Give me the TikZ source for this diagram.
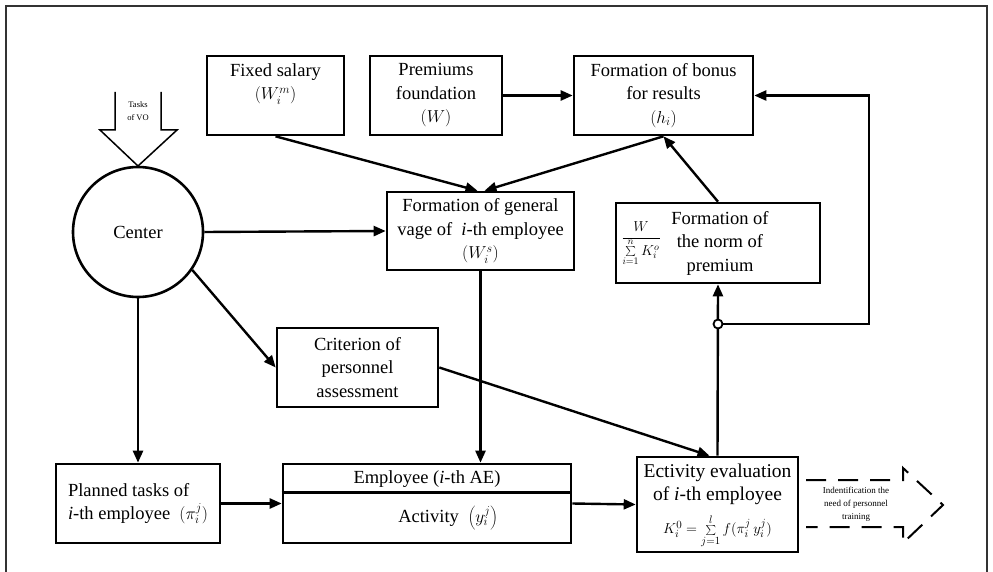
\documentclass[tikz,border=0pt]{standalone}
\usepackage{fontspec}
\setmainfont{Liberation Serif}
\usetikzlibrary{arrows.meta,calc}

\begin{document}
\begin{tikzpicture}[x=1pt,y=1pt,yscale=-1,xscale=1,
  box/.style={draw,line width=2.6pt,align=center,inner sep=2pt,font=\fontsize{18.5}{23.5}\selectfont},
  link/.style={line width=2.4pt,-{Triangle[length=12pt,width=10pt]}},
  txt/.style={inner sep=0pt,align=center,font=\fontsize{18.5}{23.5}\selectfont},
  small/.style={inner sep=0pt,align=center,font=\fontsize{9}{13}\selectfont}]
\useasboundingbox (0,0) rectangle (993,572);

%Frame
\draw[line width=1.2pt,black!80] (6,580) -- (6,6) -- (987,6) -- (987,580);

%Boxes of the top row
\node[box,minimum width=137,minimum height=79] (salary) at (275.5,95.5) {Fixed salary\\$(W_i^{m})$\\[4pt]};
\node[box,minimum width=132,minimum height=79] (fund) at (436,95.5) {Premiums\\foundation\\$(W)$};
\node[box,minimum width=179,minimum height=79] (bonus) at (663.5,95.5) {Formation of bonus\\for results\\$(h_i)$};

%Middle row
\node[draw,circle,line width=2.6pt,minimum size=130,font=\fontsize{18.5}{23.5}\selectfont] (ctr) at (138,232) {Center};
\node[box,minimum width=187,minimum height=78] (wage) at (480.5,231) {Formation of general\\vage of \ \textit{i}-th employee\\$(W_i^{s})$};
\node[txt] (normtxt) at (720,243) {Formation of\\the norm of\\premium};
\node[draw,line width=2.6pt,minimum width=204,minimum height=80] (norm) at (718,243) {};
\node[inner sep=0pt,font=\fontsize{14}{16}\selectfont] (normfrac) at (641,244) {$\displaystyle\frac{W}{\sum\limits_{i=1}^{n}K_i^{o}}$};
\node[box,minimum width=161,minimum height=79] (crit) at (357.5,367.5) {Criterion of\\personnel\\assessment};

%Bottom row
\node[box,minimum width=164,minimum height=79,align=left] (plan) at (138,503.5) {Planned tasks of\\\textit{i}-th employee \ $(\pi_i^{j})$};
\node[draw,line width=2.6pt,minimum width=288,minimum height=79] (empl) at (427,503.5) {};
\draw[line width=2.6pt] ($(empl.north west)+(0,30)$) -- ($(empl.north east)+(0,30)$);
\node[txt] (emplname) at (427,479) {Employee (\textit{i}-th AE)};
\node[txt] (emplact) at (448,518) {Activity \ $\left(y_i^{j}\right)$};
\node[draw,line width=2.6pt,minimum width=161,minimum height=95] (ect) at (717.5,504.5) {};
\node[txt,font=\fontsize{19.5}{23}\selectfont] (ecttxt) at (717.5,484) {Ectivity evaluation\\of \textit{i}-th employee};
\node[inner sep=0pt,font=\fontsize{15}{17}\selectfont] (ectform) at (717.5,531) {$K_i^0=\sum\limits_{j=1}^{l}f(\pi_i^{j}\,y_i^{j})$};

%Tasks of VO
\draw[line width=1.5pt] (115,92) -- (115,130) -- (100,130) -- (138,166) -- (177,130) -- (161,130) -- (161,92);
\node[small,font=\fontsize{8.5}{13}\selectfont] (tasks) at (138,111) {Tasks\\of VO};

%Connectors
\draw[link] (salary.south) -- ($(wage.north)+(-3,0)$);
\draw[link] (bonus.south) -- ($(wage.north)+(4,0)$);
\draw[link] (fund.east) -- (bonus.west);
\draw[link] (norm.north) -- (bonus.south);
\draw[link] (ctr.east) -- (wage.west);
\draw[link] (ctr.-35) -- (crit.west);
\draw[link] (ctr.south) -- (plan.north);
\draw[link] (wage.south) -- (wage.south |- empl.north);
\draw[link] (plan.east) -- (empl.west);
\draw[link] (empl.east) -- (ect.west);
\draw[link] (crit.east) -- ($(ect.north)+(-8,0)$);
\draw[link] (ect.north) -- (norm.south);
\coordinate (jn) at (718,324);
\coordinate (turn) at (869,95.5);
\draw[link] (jn) -| (turn) -- (bonus.east);
\node[circle,draw,fill=white,line width=1.8pt,inner sep=0pt,minimum size=9] (jnmark) at (jn) {};

%Training arrow
\draw[line width=2pt,dash pattern=on 20pt off 12pt] (806,480) -- (903,480) -- (903,468) -- (943,505) -- (903,543) -- (903,527) -- (806,527);
\node[small] (training) at (856,504) {Indentification the\\need of personnel\\training};

\end{tikzpicture}
\end{document}
